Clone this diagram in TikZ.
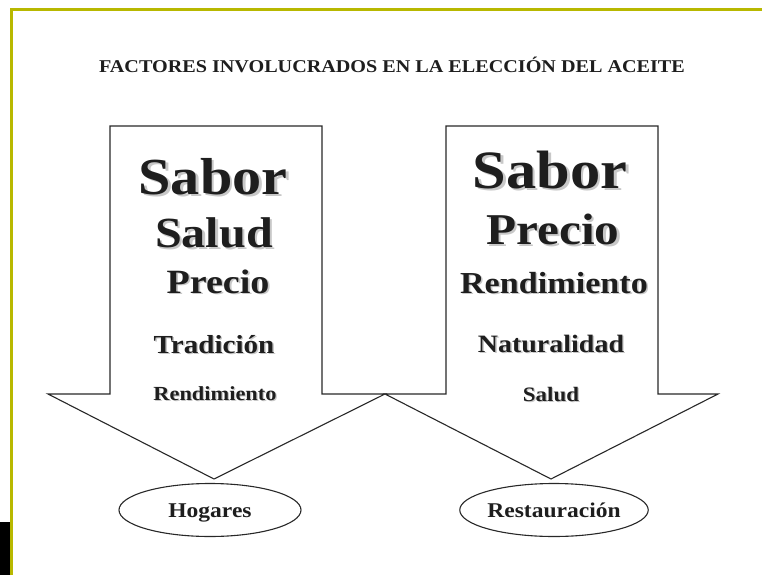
\documentclass[tikz,border=0pt]{standalone}
\usepackage{fontspec}
\setmainfont[FakeStretch=1.12]{Liberation Serif}
\usetikzlibrary{shapes.geometric}
\definecolor{borderyellow}{RGB}{184,184,0}
\definecolor{inkdark}{RGB}{30,30,30}
\definecolor{linegray}{RGB}{40,40,40}
\definecolor{shadowgray}{RGB}{200,200,200}
\newcommand\shtext[2]{\rlap{\kern#1\raisebox{-#1}{\textcolor{shadowgray}{#2}}}#2}
\newcommand\fsz[1]{\fontsize{#1}{#1}\selectfont}
\tikzset{
  arrowshape/.style={draw=linegray, line width=1.1pt, fill=white, line join=miter},
  word/.style={anchor=base, inner sep=0pt, text=inkdark, text depth=0pt, font=\bfseries},
  target/.style={draw=linegray, line width=1.1pt, ellipse, inner sep=0pt,
     minimum width=182pt, minimum height=53pt, text height=14pt, text depth=0pt,
     text=inkdark, font=\bfseries\fsz{21}},
  borderline/.style={draw=borderyellow, line width=2.6pt}
}
\begin{document}
\begin{tikzpicture}[x=1pt,y=-1pt]
\useasboundingbox (0,0) rectangle (762,575);
\fill[white] (0,0) rectangle (762,575);
% border
\draw[borderline] (11.3,575) -- (11.3,9.3) -- (762,9.3);
\fill[black] (0,522) rectangle (10,575);
% title
\node[word, font=\bfseries\fsz{18}] (title) at (392,73)
  {FACTORES INVOLUCRADOS EN LA ELECCIÓN DEL ACEITE};
% left arrow
\draw[arrowshape] (110,126) -- (322,126) -- (322,394) -- (385,394) -- (214,479)
  -- (48,394) -- (110,394) -- cycle;
% right arrow
\draw[arrowshape] (446,126) -- (658,126) -- (658,394) -- (718,394) -- (551,479)
  -- (385,394) -- (446,394) -- cycle;
% left texts
\node[word, font=\bfseries\fsz{52}] (l1) at (213,194) {\shtext{2.6pt}{Sabor}};
\node[word, font=\bfseries\fsz{43}] (l2) at (214,247) {\shtext{2.2pt}{Salud}};
\node[word, font=\bfseries\fsz{34}] (l3) at (218,293) {\shtext{1.8pt}{Precio}};
\node[word, font=\bfseries\fsz{26}] (l4) at (214,353) {\shtext{1.4pt}{Tradición}};
\node[word, font=\bfseries\fsz{20}] (l5) at (215,400) {\shtext{1.2pt}{Rendimiento}};
% right texts
\node[word, font=\bfseries\fsz{54}] (r1) at (550,188) {\shtext{2.6pt}{Sabor}};
\node[word, font=\bfseries\fsz{44}] (r2) at (553,244) {\shtext{2.2pt}{Precio}};
\node[word, font=\bfseries\fsz{30.5}] (r3) at (554,293) {\shtext{1.6pt}{Rendimiento}};
\node[word, font=\bfseries\fsz{25}] (r4) at (551,352) {\shtext{1.4pt}{Naturalidad}};
\node[word, font=\bfseries\fsz{20.5}] (r5) at (551,401) {\shtext{1.2pt}{Salud}};
% targets
\node[target] (hogares) at (210,510) {Hogares};
\node[target] (restauracion) at (554,510) {Restauración};
\end{tikzpicture}
\end{document}
